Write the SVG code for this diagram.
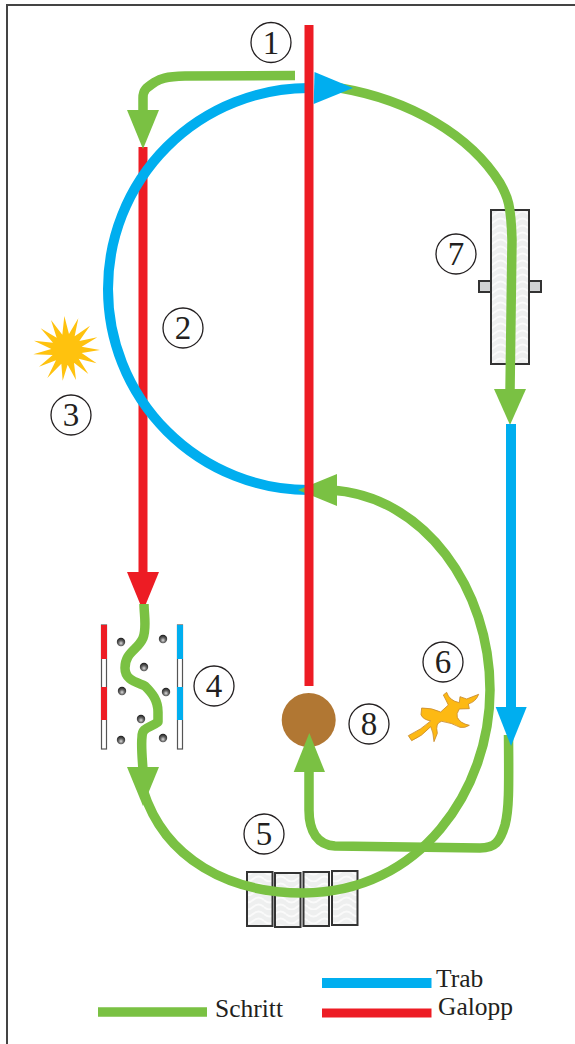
<svg xmlns="http://www.w3.org/2000/svg" width="575" height="1044" viewBox="0 0 575 1044">
<style>
.g{fill:none;stroke:#7ac143;stroke-width:9.500;stroke-linecap:butt;stroke-linejoin:round}
.b{fill:none;stroke:#00aeef;stroke-width:10}
.r{fill:none;stroke:#ed1c24;stroke-width:9}
.hg{fill:#7ac143}.hb{fill:#00aeef}.hr{fill:#ed1c24}
.c{fill:#fff;stroke:#231f20;stroke-width:1.3}
.n{font-family:"Liberation Serif",serif;font-size:33px;fill:#231f20;text-anchor:middle}
.l{font-family:"Liberation Serif",serif;font-size:25.500px;fill:#231f20}
.plate{fill:url(#wave);stroke:#333;stroke-width:2}
.tab{fill:#d1d3d4;stroke:#333;stroke-width:2}
.dot{fill:url(#ball)}
.pole{fill:#fff;stroke:#555;stroke-width:1.2}
</style>
<defs>
<pattern id="wave" width="22" height="14" patternUnits="userSpaceOnUse">
<rect width="22" height="14" fill="#eeefef"/>
<path d="M0 4Q5.500 9 11 4T22 4M0 11Q5.500 16 11 11T22 11" fill="none" stroke="#fafafa" stroke-width="2"/>
</pattern>
<radialGradient id="ball" cx=".5" cy=".65" r=".6">
<stop offset="0" stop-color="#ddd"/><stop offset=".5" stop-color="#666"/><stop offset="1" stop-color="#222"/>
</radialGradient>
</defs>
<path id="frame" d="M7 1044V5H575" fill="none" stroke="#444" stroke-width="2"/>
<g id="obstacle-7">
<rect class="tab" x="479" y="281" width="12" height="11"/>
<rect class="tab" x="529" y="281" width="12" height="11"/>
<rect class="plate" x="491" y="210" width="38" height="154"/>
</g>
<g id="obstacle-5">
<rect class="plate" x="247" y="872" width="25.500" height="54"/>
<rect class="plate" x="275" y="873" width="25.500" height="54"/>
<rect class="plate" x="303.500" y="872" width="25.500" height="54"/>
<rect class="plate" x="332" y="871" width="25.500" height="54"/>
</g>
<g id="slalom-4">
<rect class="pole" x="101.500" y="625" width="5" height="124"/>
<rect class="hr" x="101" y="625" width="6" height="34"/>
<rect class="hr" x="101" y="687" width="6" height="33"/>
<rect class="pole" x="177.500" y="625" width="5" height="124"/>
<rect class="hb" x="177" y="625" width="6" height="34"/>
<rect class="hb" x="177" y="687" width="6" height="33"/>
<circle class="dot" cx="121" cy="642" r="4.200"/>
<circle class="dot" cx="163" cy="639" r="4.200"/>
<circle class="dot" cx="144" cy="667" r="4.200"/>
<circle class="dot" cx="122" cy="691" r="4.200"/>
<circle class="dot" cx="166" cy="692" r="4.200"/>
<circle class="dot" cx="141" cy="719" r="4.200"/>
<circle class="dot" cx="121" cy="740" r="4.200"/>
<circle class="dot" cx="163" cy="738" r="4.200"/>
</g>
<g id="marker-8"><circle cx="308.700" cy="720" r="27" fill="#b17733"/></g>
<g id="connectors">
<path class="r" d="M143 147V575"/>
<path class="b" d="M309 88A201 201 0 1 0 309 490"/>
<path class="g" d="M330 490C425 495 490 590 490 690C490 790 420 893 303 893C230 893 165 860 143 790"/>
<polygon class="hg" points="298,490 337,474 337,506"/>
<path class="r" d="M309 25V686"/>
<path class="g" d="M295 75.500L185 76C165 76.500 160 79 155 82C146 88 143 90 143 98V112"/>
<polygon class="hg" points="127,110 159,110 143,149"/>
<path class="g" d="M340 88C410 100 470 135 500 183C508 197 511 205 512 240L510 392"/>
<polygon class="hb" points="314.500,72 313.700,104 353,88"/>
<polygon class="hg" points="494,389 526,389 510,425"/>
<path class="b" d="M511 424V710"/>
<polygon class="hr" points="127,572 159,572 143,611"/>
<path class="g" d="M144 604C144 615 147 628 143 638C138 650 125 652 125 668C125 680 136 682 145 686C152 693 158 700 158 712V722C150 728 142 727 142 737C141 745 142 755 143 770"/>
<polygon class="hg" points="127,767 159,767 143,806"/>
<path class="g" d="M508.500 735C509 790 509 810 505 825C500 842 495 848 480 848L335 846C318 845 309 832 309 810V768"/>
<polygon class="hb" points="495.700,707 526.700,707 511,746"/>
<polygon class="hg" points="293.700,772 325,772 309.300,733"/>
</g>
<g id="sun-3" transform="translate(20 300) scale(.3333)">
<polygon fill="#ffc20e" points="133,48 147,102 175,55 164,109 210,77 178,123 232,112 185,140 240,150 185,159 230,190 176,176 205,222 162,188 168,240 143,194 128,242 124,191 82,234 108,181 57,200 98,165 40,163 94,147 42,122 99,128 62,85 110,113 93,60 127,104"/>
</g>
<g id="lizard-6" transform="translate(400 640) scale(.3333)">
<path fill="#fdb913" stroke="#c98a2b" stroke-width="2.500" stroke-linejoin="round" d="M25 287Q65 268 92 243Q68 238 63 224L65 204Q95 203 122 216L145 195Q138 180 130 165L140 157Q148 182 178 188L180 170L200 177L236 163Q228 185 205 192L208 206L178 207Q168 222 172 232Q180 250 208 256Q195 265 180 262Q155 248 125 244Q105 248 112 280L102 305Q100 275 92 260Q65 290 35 302Z"/>
</g>
<g id="n1"><circle class="c" cx="271" cy="42.500" r="20"/><text class="n" x="271" y="53.500">1</text></g>
<g id="n2"><circle class="c" cx="183" cy="328" r="20"/><text class="n" x="183" y="339">2</text></g>
<g id="n3"><circle class="c" cx="71" cy="415" r="20"/><text class="n" x="71" y="426">3</text></g>
<g id="n4"><circle class="c" cx="214" cy="686" r="20"/><text class="n" x="214" y="697">4</text></g>
<g id="n5"><circle class="c" cx="264" cy="834" r="20"/><text class="n" x="264" y="845">5</text></g>
<g id="n6"><circle class="c" cx="443" cy="662" r="20"/><text class="n" x="443" y="673">6</text></g>
<g id="n7"><circle class="c" cx="456" cy="254" r="20"/><text class="n" x="456" y="265">7</text></g>
<g id="n8"><circle class="c" cx="369" cy="724" r="20"/><text class="n" x="369" y="735">8</text></g>
<g id="legend">
<path class="g" d="M98 1012H207"/>
<path class="b" d="M322 983H431.500"/>
<path class="r" d="M322 1013H431.500"/>
<text class="l" x="215" y="1017">Schritt</text>
<text class="l" x="436" y="987">Trab</text>
<text class="l" x="438" y="1015">Galopp</text>
</g>
</svg>
